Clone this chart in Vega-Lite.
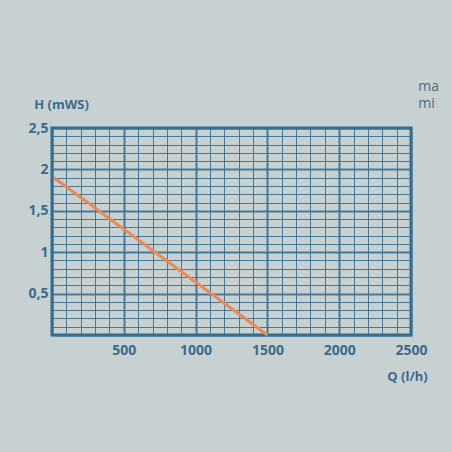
{
  "$schema": "https://vega.github.io/schema/vega-lite/v6.json",
  "width": 359,
  "height": 207,
  "autosize": {"type": "none"},
  "padding": {"left": 52, "top": 128, "right": 41, "bottom": 117},
  "background": "#c7d1d2",
  "config": {
    "view": {"stroke": "#2f6a8c", "strokeWidth": 3},
    "font": "Open Sans"
  },
  "datasets": {
    "curve": [
      {"Q": 14, "H": 1.9},
      {"Q": 1500, "H": 0}
    ],
    "note": [
      {"Q": 2550, "H": 3.0, "t": "ma"},
      {"Q": 2550, "H": 2.79, "t": "mi"}
    ]
  },
  "encoding": {
    "x": {
      "field": "Q", "type": "quantitative",
      "scale": {"domain": [0, 2500], "nice": false, "zero": false},
      "axis": {
        "values": [0,100,200,300,400,500,600,700,800,900,1000,1100,1200,1300,1400,1500,1600,1700,1800,1900,2000,2100,2200,2300,2400,2500],
        "grid": true,
        "gridColor": "#3a6f90",
        "gridWidth": {"condition": {"test": "datum.value % 500 === 0", "value": 2}, "value": 1},
        "gridOpacity": 0.9,
        "ticks": false,
        "domain": false,
        "labelExpr": "datum.value % 500 === 0 && datum.value > 0 ? datum.value : ''",
        "labelFontSize": 14,
        "labelFontWeight": "bold",
        "labelColor": "#3d6b8a",
        "labelPadding": 8,
        "labelFlush": false,
        "labelOverlap": false,
        "title": "Q (l/h)",
        "titleFontSize": 13,
        "titleFontWeight": "bold",
        "titleColor": "#3d6b8a",
        "titleX": 355,
        "titleY": 41,
        "titleAlign": "center",
        "titleBaseline": "middle"
      }
    },
    "y": {
      "field": "H", "type": "quantitative",
      "scale": {"domain": [0, 2.5], "nice": false, "zero": false},
      "axis": {
        "values": [0,0.1,0.2,0.3,0.4,0.5,0.6,0.7,0.8,0.9,1,1.1,1.2,1.3,1.4,1.5,1.6,1.7,1.8,1.9,2,2.1,2.2,2.3,2.4,2.5],
        "grid": true,
        "gridColor": "#3a6f90",
        "gridWidth": {"condition": {"test": "round(datum.value*10) % 5 === 0", "value": 2}, "value": 1},
        "gridOpacity": 0.9,
        "ticks": false,
        "domain": false,
        "labelExpr": "round(datum.value*10) % 5 === 0 && datum.value > 0 ? replace(format(datum.value, '~g'), '.', ',') : ''",
        "labelFontSize": 14,
        "labelFontWeight": "bold",
        "labelColor": "#3d6b8a",
        "labelPadding": 4,
        "labelFlush": false,
        "labelOverlap": false,
        "title": "H (mWS)",
        "titleAngle": 0,
        "titleFontSize": 13,
        "titleFontWeight": "bold",
        "titleColor": "#3d6b8a",
        "titleX": 9,
        "titleY": -24,
        "titleAlign": "center",
        "titleBaseline": "middle"
      }
    }
  },
  "layer": [
    {
      "data": {"name": "curve"},
      "mark": {"type": "line", "color": "#ec8a55", "strokeWidth": 3}
    },
    {
      "data": {"name": "note"},
      "mark": {"type": "text", "align": "left", "baseline": "middle", "fontSize": 14, "color": "#4d6a7e", "clip": false},
      "encoding": {
        "text": {"field": "t"}
      }
    }
  ]
}
